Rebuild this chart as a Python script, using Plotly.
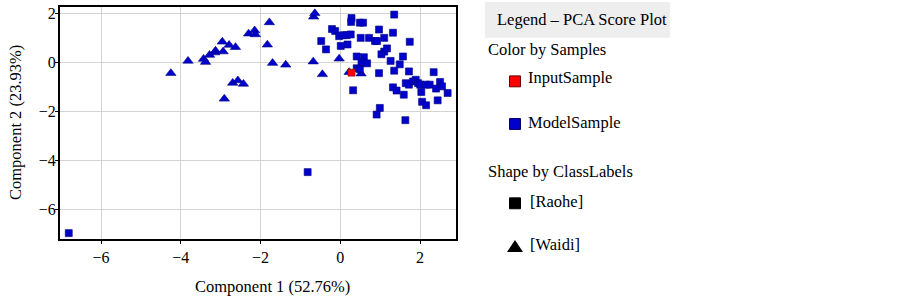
import plotly.graph_objects as go

# ---- data ----
waidi_x = [-4.25, -3.82, -3.43, -3.38, -3.28, -3.15, -3.13, -2.96, -2.94, -2.79, -2.63,
           -2.91, -2.70, -2.57, -2.43, -2.30, -2.15, -2.13, -1.78, -1.83, -1.70, -1.37,
           -0.67, -0.64, -0.68, -0.45, -0.03, 0.22, 0.52]
waidi_y = [-0.42, 0.08, 0.16, 0.03, 0.32, 0.42, 0.49, 0.86, 0.46, 0.73, 0.64,
           -1.47, -0.82, -0.72, -0.86, 1.19, 1.32, 1.16, 1.65, 0.74, -0.01, -0.08,
           1.88, 2.02, 0.05, -0.47, 0.17, -0.38, -0.44]

raohe_x = [-6.81, -0.82, 0.28, 0.27, 0.49, 0.57, 1.35, -0.21, -0.13, -0.03, 0.07, 0.16,
           0.26, 0.97, 1.32, 0.51, 0.72, 0.87, 0.92, 1.10, 1.74, -0.48, -0.36, 0.01,
           0.18, 1.17, 1.10, 1.03, 1.57, 1.49, 1.26, 0.41, 0.59, 0.53, 0.67, 0.41,
           0.49, 0.97, 1.35, 1.72, 2.34, 0.32, 1.32, 1.41, 1.59, 1.64, 1.72, 1.82,
           1.89, 1.95, 2.00, 2.03, 2.15, 2.24, 2.40, 2.50, 2.55, 2.69, 2.44, 2.05,
           2.15, 0.99, 0.91, 1.63]
raohe_y = [-6.95, -4.46, 1.83, 1.67, 1.64, 1.64, 1.97, 1.38, 1.30, 1.09, 1.13, 1.13,
           1.16, 1.36, 1.23, 1.02, 1.02, 0.89, 0.89, 1.02, 0.86, 0.89, 0.55, 0.69,
           0.75, 0.59, 0.46, 0.35, 0.26, -0.06, 0.08, 0.26, 0.23, 0.01, -0.02, -0.22,
           -0.26, -0.42, -0.32, -0.35, -0.38, -1.12, -1.00, -1.13, -1.30, -0.83, -0.89, -0.76,
           -0.69, -0.83, -0.89, -1.19, -0.89, -0.89, -1.05, -0.78, -0.96, -1.23, -1.53, -1.59,
           -1.73, -1.84, -2.11, -2.34]

input_x = [0.28]
input_y = [-0.40]

x_ticks = [-6, -4, -2, 0, 2]
y_ticks = [2, 0, -2, -4, -6]

x_title = "Component 1 (52.76%)"
y_title = "Component 2 (23.93%)"
legend_title = "Legend – PCA Score Plot"
color_group = "Color by Samples"
color_items = ["InputSample", "ModelSample"]
shape_group = "Shape by ClassLabels"
shape_items = ["[Raohe]", "[Waidi]"]

BLUE = "#0000CC"
RED = "#FF0000"
FONT = "Liberation Serif, Times New Roman, serif"

W, H = 903, 296
L, R, T, B = 60, 456, 5, 239  # plot area in pixels


def px(x, y):
    return (x - L) / (R - L), (B - y) / (B - T)


fig = go.Figure()
fig.add_trace(go.Scatter(x=waidi_x, y=waidi_y, mode="markers", showlegend=False,
                         marker=dict(symbol="triangle-up", size=9, color=BLUE,
                                     line=dict(width=0.6, color="#000080"))))
fig.add_trace(go.Scatter(x=raohe_x, y=raohe_y, mode="markers", showlegend=False,
                         marker=dict(symbol="square", size=7, color=BLUE,
                                     line=dict(width=0.6, color="#000080"))))
fig.add_trace(go.Scatter(x=input_x, y=input_y, mode="markers", showlegend=False,
                         marker=dict(symbol="square", size=7, color=RED,
                                     line=dict(width=0.6, color="#990000"))))

shapes = []
annotations = []

# legend title background
x0, y0 = px(485, 0)
x1, y1 = px(670, 36)
shapes.append(dict(type="rect", xref="paper", yref="paper", x0=x0, y0=y0, x1=x1, y1=y1,
                   fillcolor="#EEEEEE", line=dict(width=0), layer="below"))


def text(s, x, y, size=16.5):
    ax, ay = px(x, y)
    annotations.append(dict(text=s, x=ax, y=ay, xref="paper", yref="paper",
                            xanchor="left", yanchor="middle", showarrow=False,
                            font=dict(family=FONT, size=size, color="black")))


def square(cx, cy, s, fill, edge):
    a, b = px(cx - s / 2, cy + s / 2)
    c, d = px(cx + s / 2, cy - s / 2)
    shapes.append(dict(type="rect", xref="paper", yref="paper", x0=a, y0=b, x1=c, y1=d,
                       fillcolor=fill, line=dict(width=1, color=edge)))


def triangle(cx, cy, w, h, fill):
    p1 = px(cx - w / 2, cy + h / 2)
    p2 = px(cx + w / 2, cy + h / 2)
    p3 = px(cx, cy - h / 2)
    path = "M {} {} L {} {} L {} {} Z".format(p1[0], p1[1], p2[0], p2[1], p3[0], p3[1])
    shapes.append(dict(type="path", xref="paper", yref="paper", path=path,
                       fillcolor=fill, line=dict(width=0)))


text(legend_title, 495, 18)
text(color_group, 486, 48)
square(515, 80, 11, RED, "#660000")
text(color_items[0], 526, 76)
square(515, 123, 11, BLUE, "#000066")
text(color_items[1], 526, 121)
text(shape_group, 486, 171)
square(515, 203, 11, "black", "black")
text(shape_items[0], 528, 201)
triangle(515, 246, 16, 12, "black")
text(shape_items[1], 528, 245)

# axis titles
ax_, ay_ = px(272, 287)
annotations.append(dict(text=x_title, x=ax_, y=ay_, xref="paper", yref="paper",
                        xanchor="center", yanchor="middle", showarrow=False,
                        font=dict(family=FONT, size=16.5, color="black")))
ax_, ay_ = px(15, 122)
annotations.append(dict(text=y_title, x=ax_, y=ay_, xref="paper", yref="paper",
                        xanchor="center", yanchor="middle", showarrow=False, textangle=-90,
                        font=dict(family=FONT, size=16.5, color="black")))

fig.update_layout(
    width=W, height=H,
    margin=dict(l=L, r=W - R, t=T, b=H - B, pad=0),
    paper_bgcolor="white", plot_bgcolor="white",
    font=dict(family=FONT, size=16, color="black"),
    shapes=shapes, annotations=annotations,
    xaxis=dict(range=[-7.03, 2.90], tickvals=x_ticks, showgrid=True, gridcolor="#D3D3D3",
               gridwidth=1, zeroline=False, showline=True, linecolor="black", linewidth=2,
               mirror=True, ticks="outside", ticklen=3, tickcolor="black",
               tickfont=dict(family=FONT, size=16, color="black")),
    yaxis=dict(range=[-7.19, 2.28], tickvals=y_ticks, showgrid=True, gridcolor="#D3D3D3",
               gridwidth=1, zeroline=False, showline=True, linecolor="black", linewidth=2,
               mirror=True, ticks="outside", ticklen=3, tickcolor="black",
               ticklabelstandoff=-4,
               tickfont=dict(family=FONT, size=16, color="black")),
)

fig.write_html("out.html", config={"displayModeBar": False},
               post_script="document.body.style.margin='0';document.body.style.overflow='hidden';")
